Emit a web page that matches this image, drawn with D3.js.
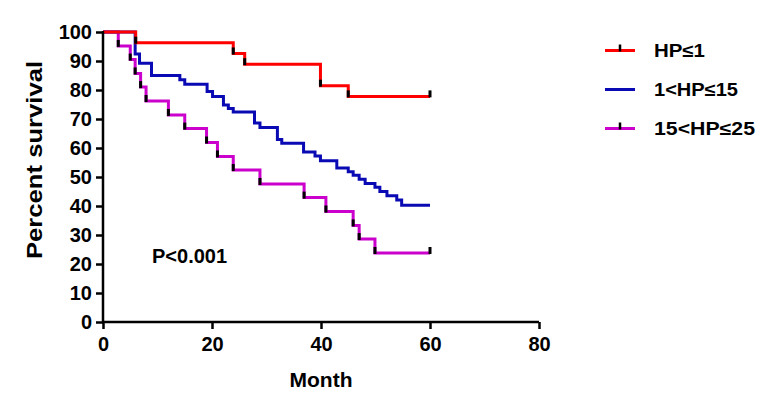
<!DOCTYPE html>
<html>
<head>
<meta charset="utf-8">
<script src="https://cdn.jsdelivr.net/npm/d3@7"></script>
<style>
  html, body { margin: 0; padding: 0; background: #fff; }
  svg text { font-family: "Liberation Sans", Arial, sans-serif; font-weight: bold; fill: #000; }
</style>
</head>
<body>
<svg id="chart" width="775" height="406"></svg>
<script>
// ---- data ----
const seriesNames = ["HP≤1", "1<HP≤15", "15<HP≤25"];
const redMonths = [0, 6, 23.9, 26, 39.9, 45, 60];
const redValues = [100, 96.3, 92.6, 88.9, 81.5, 77.8, 77.8];
const blueMonths = [0, 5.9, 6.7, 8.9, 14.1, 15.0, 19.1, 20.1, 22.1, 23.0, 23.9, 27.8, 28.8, 32.0, 32.8, 36.8, 38.9, 39.9, 42.9, 45.0, 45.9, 47.0, 48.1, 49.9, 50.8, 52.1, 53.9, 54.8, 60];
const blueValues = [100, 92.4, 89.2, 85, 83.5, 82, 79.5, 77.8, 74.8, 73.6, 72.4, 68.6, 67.1, 62.9, 61.6, 58.6, 57.2, 55.6, 53.1, 51.8, 50.6, 49.2, 47.8, 46.5, 45.0, 43.5, 42.1, 40.3, 40.3];
const purpleMonths = [0, 2.8, 5, 5.9, 6.9, 7.9, 12, 15, 19, 21, 23.9, 28.8, 36.9, 40.9, 45.9, 47, 49.9, 60];
const purpleValues = [100, 95.2, 90.5, 85.7, 81, 76.2, 71.4, 66.7, 61.9, 57.1, 52.4, 47.6, 42.9, 38.1, 33.3, 28.6, 23.8, 23.8];
const xTicks = [0, 20, 40, 60, 80];
const yTicks = [0, 10, 20, 30, 40, 50, 60, 70, 80, 90, 100];
const pText = "P<0.001";

// ---- layout ----
const svg = d3.select("#chart");
const x = d3.scaleLinear().domain([0, 80]).range([103, 539]);
const y = d3.scaleLinear().domain([0, 100]).range([322, 32]);

const series = [
  { name: seriesNames[2], months: purpleMonths, values: purpleValues, color: "#cc00cc", ticks: true },
  { name: seriesNames[1], months: blueMonths, values: blueValues, color: "#0a0ab4", ticks: false },
  { name: seriesNames[0], months: redMonths, values: redValues, color: "#ff0000", ticks: true }
];

const line = d3.line().x(d => x(d[0])).y(d => y(d[1])).curve(d3.curveStepAfter);

series.forEach(s => {
  const pts = s.months.map((m, i) => [m, s.values[i]]);
  svg.append("path").datum(pts).attr("d", line)
    .attr("fill", "none").attr("stroke", s.color).attr("stroke-width", 3)
    .attr("stroke-linejoin", "miter");
});
// censor ticks
series.forEach(s => {
  if (!s.ticks) return;
  const pts = s.months.map((m, i) => [m, s.values[i]]).slice(1);
  svg.append("g").selectAll("line").data(pts).join("line")
    .attr("x1", d => x(d[0])).attr("x2", d => x(d[0]))
    .attr("y1", d => y(d[1]) + 1).attr("y2", d => y(d[1]) - 6)
    .attr("stroke", "#000").attr("stroke-width", 3);
});

// axes
const yAxis = d3.axisLeft(y).tickValues(yTicks).tickSize(7).tickPadding(4);
const gy = svg.append("g").attr("transform", "translate(103,0)").call(yAxis);
const xAxis = d3.axisBottom(x).tickValues(xTicks).tickSize(7).tickPadding(8);
const gx = svg.append("g").attr("transform", "translate(0,322)").call(xAxis);
[gx, gy].forEach(g => {
  g.select(".domain").attr("stroke", "#000").attr("stroke-width", 2.5);
  g.selectAll(".tick line").attr("stroke", "#000").attr("stroke-width", 2.5);
  g.selectAll(".tick text").style("font-size", "20px").style("font-weight", "bold")
    .style("font-family", "'Liberation Sans', Arial, sans-serif").attr("fill", "#000");
});
gy.select(".domain").attr("d", "M0,323V31");
gx.select(".domain").attr("d", "M102,0H539");

// axis titles
svg.append("text").attr("x", 321).attr("y", 387).attr("text-anchor", "middle")
  .style("font-size", "21px").text("Month");
svg.append("text").attr("transform", "translate(42,160) rotate(-90)").attr("text-anchor", "middle")
  .style("font-size", "22px").attr("textLength", 198).attr("lengthAdjust", "spacingAndGlyphs")
  .text("Percent survival");

// P value
svg.append("text").attr("x", 152).attr("y", 263).style("font-size", "20px").text(pText);

// legend
const legendY = [50.5, 89.5, 128.5];
const legendOrder = [series[2], series[1], series[0]];
const legendLen = [51, 84, 101];
legendOrder.forEach((s, i) => {
  svg.append("line").attr("x1", 605).attr("x2", 635).attr("y1", legendY[i]).attr("y2", legendY[i])
    .attr("stroke", s.color).attr("stroke-width", 3);
  if (s.ticks) {
    svg.append("line").attr("x1", 620).attr("x2", 620).attr("y1", legendY[i] + 1).attr("y2", legendY[i] - 6)
      .attr("stroke", "#000").attr("stroke-width", 2.5);
  }
  svg.append("text").attr("x", 654).attr("y", legendY[i] + 6.5)
    .style("font-size", "18px").attr("textLength", legendLen[i]).attr("lengthAdjust", "spacingAndGlyphs")
    .text(s.name);
});
</script>
</body>
</html>
